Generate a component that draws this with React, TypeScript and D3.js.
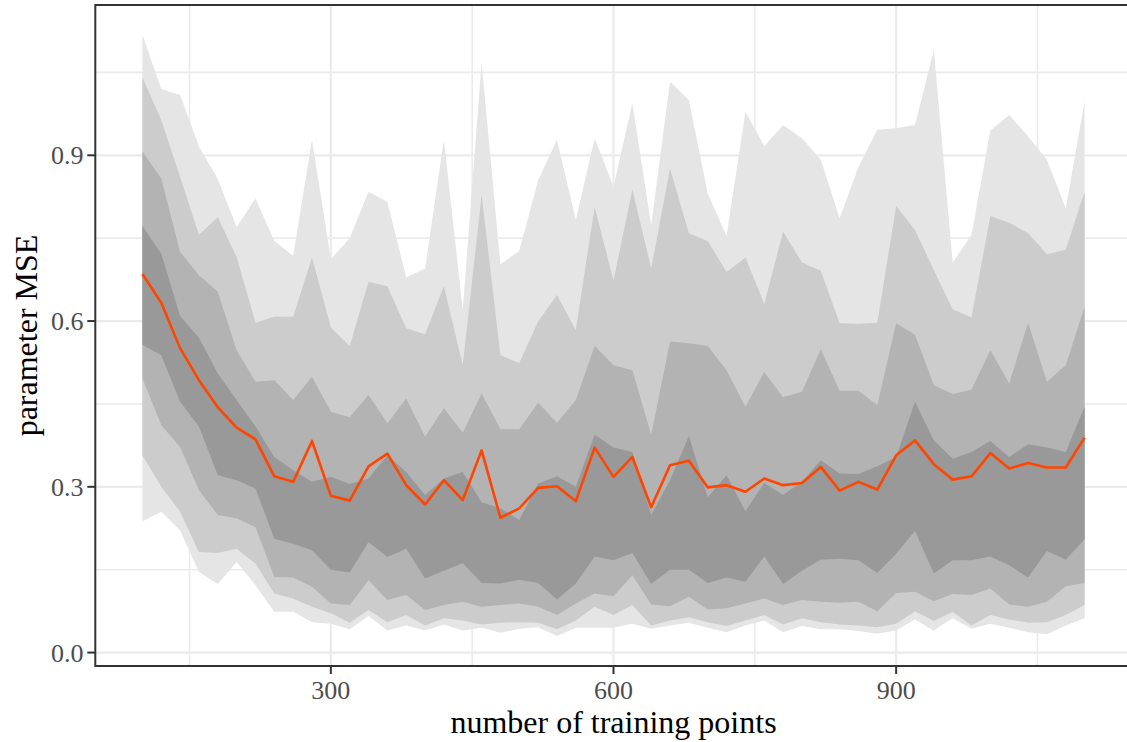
import React from "react";
import * as d3 from "d3";

// number of training points (x)
const trainingPoints = [
  100, 120, 140, 160, 180, 200, 220, 240, 260, 280, 300, 320, 340, 360, 380, 400, 420,
  440, 460, 480, 500, 520, 540, 560, 580, 600, 620, 640, 660, 680, 700, 720, 740, 760,
  780, 800, 820, 840, 860, 880, 900, 920, 940, 960, 980, 1000, 1020, 1040, 1060, 1080, 1100,
];

// median parameter MSE (orange line)
const medianMSE = [
  0.685, 0.633, 0.551, 0.493, 0.444, 0.407, 0.386, 0.319, 0.309, 0.383, 0.284, 0.275, 0.337,
  0.36, 0.303, 0.268, 0.312, 0.276, 0.366, 0.244, 0.261, 0.298, 0.301, 0.274, 0.371, 0.318,
  0.354, 0.263, 0.339, 0.347, 0.299, 0.303, 0.291, 0.315, 0.303, 0.307, 0.336, 0.293, 0.309,
  0.295, 0.357, 0.384, 0.341, 0.313, 0.319, 0.361, 0.333, 0.343, 0.335, 0.335, 0.389,
];

// outermost band (lightest)
const band1Low = [
  0.237, 0.255, 0.221, 0.146, 0.124, 0.164, 0.122, 0.074, 0.074, 0.055, 0.052, 0.042, 0.066,
  0.04, 0.049, 0.04, 0.051, 0.04, 0.045, 0.036, 0.043, 0.046, 0.03, 0.045, 0.045, 0.045,
  0.052, 0.043, 0.049, 0.054, 0.045, 0.037, 0.049, 0.058, 0.037, 0.048, 0.042, 0.042, 0.039,
  0.034, 0.04, 0.06, 0.04, 0.062, 0.043, 0.052, 0.045, 0.037, 0.033, 0.049, 0.062,
];
const band1High = [
  1.118, 1.02, 1.009, 0.916, 0.857, 0.77, 0.822, 0.745, 0.718, 0.928, 0.712, 0.75, 0.834,
  0.816, 0.679, 0.695, 0.928, 0.62, 1.068, 0.703, 0.727, 0.855, 0.928, 0.783, 0.931, 0.843,
  0.994, 0.774, 1.033, 1.0, 0.831, 0.754, 0.979, 0.917, 0.955, 0.931, 0.892, 0.786, 0.879,
  0.946, 0.949, 0.955, 1.091, 0.706, 0.756, 0.945, 0.973, 0.934, 0.892, 0.804, 0.997,
];

// second band
const band2Low = [
  0.357, 0.3, 0.255, 0.182, 0.18, 0.188, 0.161, 0.107, 0.098, 0.083, 0.071, 0.054, 0.077,
  0.055, 0.068, 0.049, 0.062, 0.058, 0.051, 0.054, 0.055, 0.054, 0.042, 0.058, 0.083, 0.068,
  0.086, 0.049, 0.058, 0.064, 0.055, 0.048, 0.058, 0.068, 0.051, 0.062, 0.055, 0.051, 0.049,
  0.046, 0.052, 0.075, 0.057, 0.074, 0.049, 0.068, 0.06, 0.054, 0.055, 0.068, 0.086,
];
const band2High = [
  1.041, 0.964, 0.861, 0.756, 0.788, 0.716, 0.597, 0.608, 0.608, 0.715, 0.589, 0.555, 0.671,
  0.663, 0.587, 0.576, 0.663, 0.52, 0.828, 0.538, 0.524, 0.599, 0.647, 0.584, 0.807, 0.673,
  0.838, 0.695, 0.876, 0.759, 0.745, 0.689, 0.715, 0.631, 0.762, 0.706, 0.691, 0.596, 0.595,
  0.597, 0.808, 0.765, 0.692, 0.621, 0.607, 0.79, 0.778, 0.759, 0.721, 0.729, 0.834,
];

// third band
const band3Low = [
  0.496, 0.412, 0.372, 0.294, 0.249, 0.243, 0.227, 0.137, 0.136, 0.119, 0.089, 0.086, 0.131,
  0.095, 0.104, 0.077, 0.086, 0.092, 0.083, 0.086, 0.089, 0.083, 0.068, 0.089, 0.107, 0.102,
  0.14, 0.087, 0.084, 0.101, 0.078, 0.08, 0.089, 0.098, 0.086, 0.095, 0.092, 0.09, 0.092,
  0.075, 0.108, 0.11, 0.093, 0.106, 0.104, 0.116, 0.087, 0.083, 0.092, 0.12, 0.126,
];
const band3High = [
  0.907, 0.858, 0.725, 0.683, 0.653, 0.547, 0.49, 0.493, 0.457, 0.499, 0.436, 0.426, 0.466,
  0.415, 0.46, 0.391, 0.442, 0.398, 0.469, 0.404, 0.404, 0.452, 0.416, 0.457, 0.555, 0.52,
  0.511, 0.394, 0.563, 0.56, 0.555, 0.511, 0.445, 0.508, 0.462, 0.472, 0.549, 0.474, 0.474,
  0.448, 0.596, 0.575, 0.484, 0.468, 0.476, 0.547, 0.487, 0.597, 0.49, 0.52, 0.626,
];

// innermost band (darkest)
const band4Low = [
  0.557, 0.538, 0.454, 0.409, 0.321, 0.312, 0.297, 0.206, 0.197, 0.185, 0.15, 0.145, 0.2,
  0.173, 0.188, 0.134, 0.148, 0.162, 0.126, 0.125, 0.132, 0.126, 0.096, 0.125, 0.174, 0.167,
  0.18, 0.124, 0.15, 0.15, 0.126, 0.136, 0.128, 0.174, 0.124, 0.148, 0.168, 0.17, 0.167,
  0.144, 0.179, 0.22, 0.143, 0.167, 0.167, 0.174, 0.158, 0.136, 0.184, 0.168, 0.205,
];
const band4High = [
  0.772, 0.722, 0.609, 0.57, 0.505, 0.457, 0.409, 0.354, 0.33, 0.309, 0.318, 0.305, 0.315,
  0.357, 0.327, 0.285, 0.315, 0.327, 0.272, 0.261, 0.24, 0.306, 0.319, 0.3, 0.394, 0.371,
  0.363, 0.249, 0.312, 0.392, 0.281, 0.321, 0.256, 0.307, 0.285, 0.309, 0.348, 0.324, 0.323,
  0.337, 0.354, 0.454, 0.384, 0.351, 0.363, 0.383, 0.354, 0.377, 0.371, 0.363, 0.445,
];

const bandColors = ["#e5e5e5", "#cccccc", "#b3b3b3", "#999999"];
const xMajorTicks = [300, 600, 900];
const xMinorTicks = [150, 450, 750, 1050];
const yMajorTicks = [0, 0.3, 0.6, 0.9];
const yMinorTicks = [0.15, 0.45, 0.75, 1.05];

const W = 1127;
const H = 742;
const panel = { left: 95.3, top: 5, right: 1131.7, bottom: 666 };

export default function App() {
  const x = d3.scaleLinear().domain([50, 1150]).range([panel.left, panel.right]);
  const y = d3.scaleLinear().domain([-0.0243, 1.172]).range([panel.bottom, panel.top]);

  const bands = [
    [band1Low, band1High],
    [band2Low, band2High],
    [band3Low, band3High],
    [band4Low, band4High],
  ];

  const areaFor = (lo: number[], hi: number[]) =>
    d3
      .area<number>()
      .x((_, i) => x(trainingPoints[i]))
      .y0((_, i) => y(lo[i]))
      .y1((_, i) => y(hi[i]))(trainingPoints) || "";

  const linePath =
    d3
      .line<number>()
      .x((_, i) => x(trainingPoints[i]))
      .y((d) => y(d))(medianMSE) || "";

  const font = "'Liberation Serif', 'Times New Roman', serif";
  const tickSize = 26;

  return (
    <svg
      width={W}
      height={H}
      style={{ position: "absolute", left: 0, top: 0, display: "block", background: "#fff" }}
    >
      <defs>
        <clipPath id="panelClip">
          <rect
            x={panel.left}
            y={panel.top}
            width={panel.right - panel.left}
            height={panel.bottom - panel.top}
          />
        </clipPath>
      </defs>
      <rect x={0} y={0} width={W} height={H} fill="#fff" />
      <g clipPath="url(#panelClip)">
        {xMinorTicks.map((t) => (
          <line key={"xm" + t} x1={x(t)} x2={x(t)} y1={panel.top} y2={panel.bottom} stroke="#ebebeb" strokeWidth={1.6} />
        ))}
        {yMinorTicks.map((t) => (
          <line key={"ym" + t} x1={panel.left} x2={panel.right} y1={y(t)} y2={y(t)} stroke="#ebebeb" strokeWidth={1.6} />
        ))}
        {xMajorTicks.map((t) => (
          <line key={"xM" + t} x1={x(t)} x2={x(t)} y1={panel.top} y2={panel.bottom} stroke="#ebebeb" strokeWidth={2.2} />
        ))}
        {yMajorTicks.map((t) => (
          <line key={"yM" + t} x1={panel.left} x2={panel.right} y1={y(t)} y2={y(t)} stroke="#ebebeb" strokeWidth={2.2} />
        ))}
        {bands.map(([lo, hi], k) => (
          <path key={"band" + k} d={areaFor(lo, hi)} fill={bandColors[k]} stroke="none" />
        ))}
        <path d={linePath} fill="none" stroke="#ff4500" strokeWidth={2.6} strokeLinejoin="round" />
      </g>
      <rect
        x={panel.left}
        y={panel.top}
        width={panel.right - panel.left}
        height={panel.bottom - panel.top}
        fill="none"
        stroke="#333333"
        strokeWidth={2}
      />
      {xMajorTicks.map((t) => (
        <g key={"xt" + t}>
          <line x1={x(t)} x2={x(t)} y1={panel.bottom} y2={panel.bottom + 8} stroke="#333333" strokeWidth={2} />
          <text x={x(t)} y={699} textAnchor="middle" fontFamily={font} fontSize={tickSize} fill="#4d4d4d">
            {String(t)}
          </text>
        </g>
      ))}
      {yMajorTicks.map((t) => (
        <g key={"yt" + t}>
          <line x1={panel.left - 8} x2={panel.left} y1={y(t)} y2={y(t)} stroke="#333333" strokeWidth={2} />
          <text x={83.5} y={y(t)} dy="0.35em" textAnchor="end" fontFamily={font} fontSize={tickSize} fill="#4d4d4d">
            {t.toFixed(1)}
          </text>
        </g>
      ))}
      <text
        x={(panel.left + 1131.7) / 2}
        y={733}
        textAnchor="middle"
        fontFamily={font}
        fontSize={32}
        fill="#000"
      >
        number of training points
      </text>
      <text
        transform={`translate(37, ${(panel.top + panel.bottom) / 2}) rotate(-90)`}
        textAnchor="middle"
        fontFamily={font}
        fontSize={32}
        fill="#000"
      >
        parameter MSE
      </text>
    </svg>
  );
}
